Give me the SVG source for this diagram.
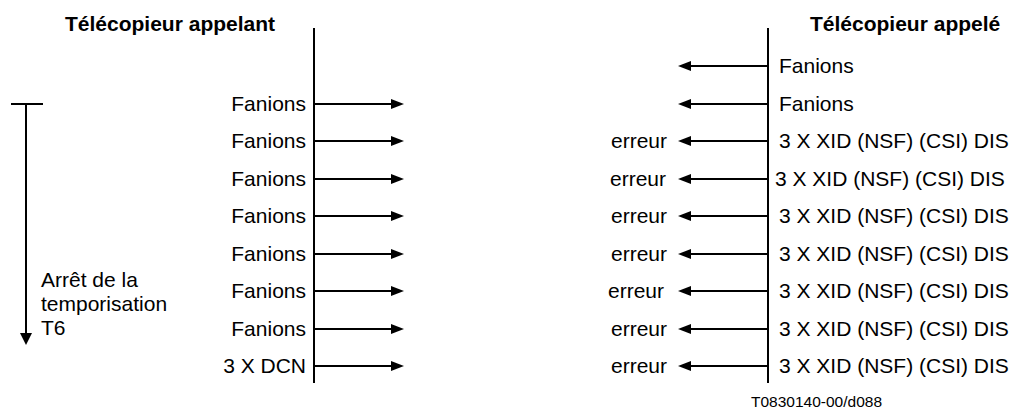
<svg xmlns="http://www.w3.org/2000/svg" width="1014" height="415" viewBox="0 0 1014 415">
<style>
text{font-family:"Liberation Sans",Arial,sans-serif;font-size:21px;fill:#000}
.t{font-weight:bold}
.r{text-anchor:end}
.f{font-size:15.5px}
.ln{stroke:#000;stroke-width:2;fill:none}
.ah{fill:#000}
</style>
<rect width="1014" height="415" fill="#fff"/>
<g id="caller">
<text class="t" x="65" y="31">Télécopieur appelant</text>
<line class="ln" x1="314" y1="28" x2="314" y2="383"/>
</g>
<g id="called">
<text class="t" x="810" y="31">Télécopieur appelé</text>
<line class="ln" x1="768" y1="28" x2="768" y2="383"/>
</g>
<g id="timer">
<line class="ln" x1="11" y1="104" x2="43" y2="104"/>
<line class="ln" x1="26" y1="104" x2="26" y2="336"/>
<polygon class="ah" points="20,333 32,333 26,345"/>
<text x="41" y="287">Arrêt de la</text>
<text x="41" y="311">temporisation</text>
<text x="41" y="335">T6</text>
</g>
<g id="left-labels">
<text class="r" x="306" y="111">Fanions</text>
<text class="r" x="306" y="148">Fanions</text>
<text class="r" x="306" y="186">Fanions</text>
<text class="r" x="306" y="223">Fanions</text>
<text class="r" x="306" y="261">Fanions</text>
<text class="r" x="306" y="298">Fanions</text>
<text class="r" x="306" y="336">Fanions</text>
<text class="r" x="306" y="373">3 X DCN</text>
</g>
<g id="right-labels">
<text x="779" y="73">Fanions</text>
<text x="779" y="111">Fanions</text>
<text x="779" y="148">3 X XID (NSF) (CSI) DIS</text>
<text x="775" y="186">3 X XID (NSF) (CSI) DIS</text>
<text x="779" y="223">3 X XID (NSF) (CSI) DIS</text>
<text x="779" y="261">3 X XID (NSF) (CSI) DIS</text>
<text x="779" y="298">3 X XID (NSF) (CSI) DIS</text>
<text x="779" y="336">3 X XID (NSF) (CSI) DIS</text>
<text x="779" y="373">3 X XID (NSF) (CSI) DIS</text>
<text class="r" x="667" y="148">erreur</text>
<text class="r" x="666" y="186">erreur</text>
<text class="r" x="667" y="223">erreur</text>
<text class="r" x="667" y="261">erreur</text>
<text class="r" x="664" y="298">erreur</text>
<text class="r" x="667" y="336">erreur</text>
<text class="r" x="667" y="373">erreur</text>
</g>
<g id="connectors">
<g id="out">
<line class="ln" x1="314" y1="104" x2="393" y2="104"/><polygon class="ah" points="391,99 404,104 391,109"/>
<line class="ln" x1="314" y1="141" x2="393" y2="141"/><polygon class="ah" points="391,136 404,141 391,146"/>
<line class="ln" x1="314" y1="179" x2="393" y2="179"/><polygon class="ah" points="391,174 404,179 391,184"/>
<line class="ln" x1="314" y1="216" x2="393" y2="216"/><polygon class="ah" points="391,211 404,216 391,221"/>
<line class="ln" x1="314" y1="254" x2="393" y2="254"/><polygon class="ah" points="391,249 404,254 391,259"/>
<line class="ln" x1="314" y1="291" x2="393" y2="291"/><polygon class="ah" points="391,286 404,291 391,296"/>
<line class="ln" x1="314" y1="329" x2="393" y2="329"/><polygon class="ah" points="391,324 404,329 391,334"/>
<line class="ln" x1="314" y1="366" x2="393" y2="366"/><polygon class="ah" points="391,361 404,366 391,371"/>
</g>
<g id="in">
<line class="ln" x1="768" y1="66" x2="689" y2="66"/><polygon class="ah" points="691,61 678,66 691,71"/>
<line class="ln" x1="768" y1="104" x2="689" y2="104"/><polygon class="ah" points="691,99 678,104 691,109"/>
<line class="ln" x1="768" y1="141" x2="689" y2="141"/><polygon class="ah" points="691,136 678,141 691,146"/>
<line class="ln" x1="768" y1="179" x2="689" y2="179"/><polygon class="ah" points="691,174 678,179 691,184"/>
<line class="ln" x1="768" y1="216" x2="689" y2="216"/><polygon class="ah" points="691,211 678,216 691,221"/>
<line class="ln" x1="768" y1="254" x2="689" y2="254"/><polygon class="ah" points="691,249 678,254 691,259"/>
<line class="ln" x1="768" y1="291" x2="689" y2="291"/><polygon class="ah" points="691,286 678,291 691,296"/>
<line class="ln" x1="768" y1="329" x2="689" y2="329"/><polygon class="ah" points="691,324 678,329 691,334"/>
<line class="ln" x1="768" y1="366" x2="689" y2="366"/><polygon class="ah" points="691,361 678,366 691,371"/>
</g>
</g>
<text class="f" x="751" y="407">T0830140-00/d088</text>
</svg>
